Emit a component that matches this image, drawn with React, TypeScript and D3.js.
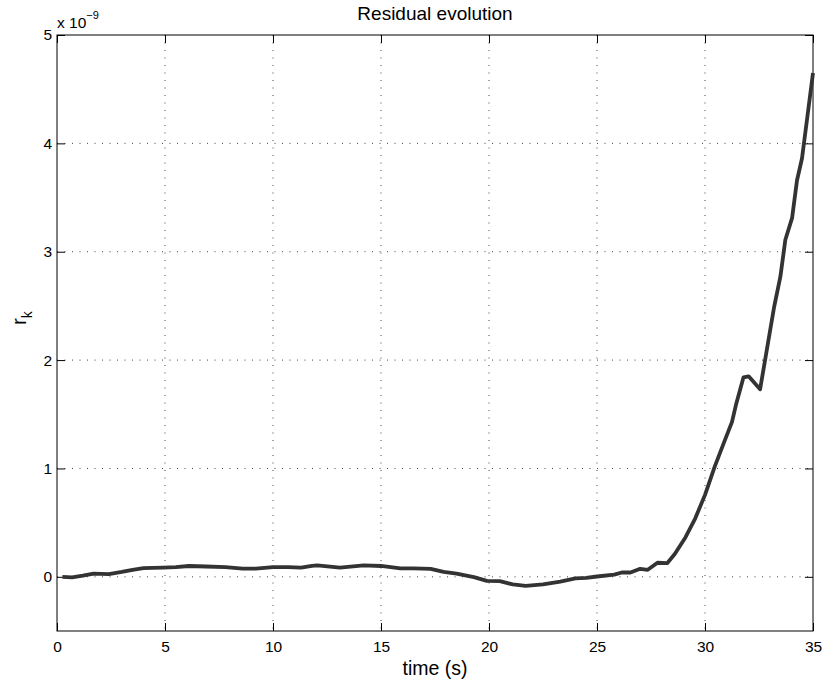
import React, { useEffect, useRef } from 'react'
import * as d3 from 'd3'

// time (s) and residual r_k (units of 1e-9)
const times = [
  0.25, 0.7, 1.2, 1.7, 2.4, 3.0, 3.5, 4.0, 4.9, 5.5, 6.1, 6.9, 7.8, 8.6, 9.2, 10.0,
  10.7, 11.3, 11.8, 12.05, 13.1, 14.2, 15.0, 15.9, 16.5, 17.3, 17.9, 18.5, 19.3, 19.9,
  20.5, 21.1, 21.7, 22.5, 23.3, 24.0, 24.5, 25.0, 25.8, 26.15, 26.55, 27.0, 27.35, 27.8,
  28.25, 28.6, 29.1, 29.55, 30.0, 30.45, 30.85, 31.25, 31.45, 31.78, 32.02, 32.55, 33.2,
  33.49, 33.72, 34.03, 34.26, 34.49, 35.0,
]
const residuals = [
  0, -0.005, 0.01, 0.03, 0.025, 0.045, 0.065, 0.08, 0.085, 0.09, 0.1, 0.095, 0.09, 0.075, 0.075, 0.09,
  0.09, 0.085, 0.1, 0.105, 0.085, 0.105, 0.1, 0.077, 0.078, 0.074, 0.046, 0.03, -0.003, -0.037,
  -0.04, -0.07, -0.083, -0.07, -0.045, -0.015, -0.01, 0.003, 0.02, 0.04, 0.04, 0.074, 0.065, 0.13,
  0.126, 0.21, 0.366, 0.54, 0.756, 1.017, 1.224, 1.43, 1.6, 1.84, 1.85, 1.73, 2.49,
  2.77, 3.11, 3.31, 3.66, 3.86, 4.65,
]
const xTicks = [0, 5, 10, 15, 20, 25, 30, 35]
const yTicks = [0, 1, 2, 3, 4, 5]

const W = 824
const H = 681
const FONT = '"Liberation Sans", Arial, Helvetica, sans-serif'

const App = () => {
  const ref = useRef<SVGSVGElement>(null)

  useEffect(() => {
    const svg = d3.select(ref.current)
    svg.selectAll('*').remove()

    const left = 57, right = 813, top = 35, bottom = 631
    const x = d3.scaleLinear().domain([0, 35]).range([left, right])
    const y = d3.scaleLinear().domain([-0.5, 5]).range([bottom, top])

    // dotted grid
    const grid = svg.append('g').attr('stroke', '#444').attr('stroke-width', 1).attr('stroke-dasharray', '1,6.5')
    grid.selectAll('line.v').data(xTicks.slice(1, -1)).join('line')
      .attr('x1', d => x(d)).attr('x2', d => x(d)).attr('y1', top).attr('y2', bottom)
    grid.selectAll('line.h').data(yTicks.slice(0, -1)).join('line')
      .attr('class', 'h')
      .attr('x1', left).attr('x2', right).attr('y1', d => y(d)).attr('y2', d => y(d))

    // axes, ticks inward
    const styleAxis = (g: any) => {
      g.attr('font-size', null).attr('font-family', null)
      g.select('.domain').remove()
      g.selectAll('line').attr('stroke', '#000')
      g.selectAll('text').attr('font-family', FONT).attr('font-size', 15.5).attr('fill', '#000')
    }
    svg.append('g').attr('transform', `translate(0,${bottom})`)
      .call(d3.axisBottom(x).tickValues(xTicks).tickSize(-8).tickPadding(10).tickFormat(d3.format('d')))
      .call(styleAxis)
    svg.append('g').attr('transform', `translate(0,${top})`)
      .call(d3.axisTop(x).tickValues(xTicks).tickSize(-8).tickFormat(() => ''))
      .call(styleAxis)
    svg.append('g').attr('transform', `translate(${left},0)`)
      .call(d3.axisLeft(y).tickValues(yTicks).tickSize(-8).tickPadding(5).tickFormat(d3.format('d')))
      .call(styleAxis)
    svg.append('g').attr('transform', `translate(${right},0)`)
      .call(d3.axisRight(y).tickValues(yTicks).tickSize(-8).tickFormat(() => ''))
      .call(styleAxis)

    // frame
    svg.append('rect').attr('x', left).attr('y', top).attr('width', right - left).attr('height', bottom - top)
      .attr('fill', 'none').attr('stroke', '#000').attr('stroke-width', 1)

    // residual curve
    const pts = times.map((t, i) => [t, residuals[i]] as [number, number])
    svg.append('path').datum(pts)
      .attr('d', d3.line<[number, number]>().x(d => x(d[0])).y(d => y(d[1])))
      .attr('fill', 'none').attr('stroke', '#333').attr('stroke-width', 3.8)
      .attr('stroke-linejoin', 'round')

    // texts
    svg.append('text').attr('x', (left + right) / 2).attr('y', 20).attr('text-anchor', 'middle')
      .attr('font-family', FONT).attr('font-size', 19).text('Residual evolution')
    svg.append('text').attr('x', (left + right) / 2).attr('y', 675).attr('text-anchor', 'middle')
      .attr('font-family', FONT).attr('font-size', 19.5).text('time (s)')

    const yl = svg.append('text').attr('transform', 'translate(26,318) rotate(-90)')
      .attr('text-anchor', 'middle').attr('font-family', FONT).attr('font-size', 19.5)
    yl.append('tspan').text('r')
    yl.append('tspan').attr('font-size', 14).attr('dy', 6).text('k')

    const ex = svg.append('text').attr('x', 57).attr('y', 28).attr('font-family', FONT).attr('font-size', 15.5)
    ex.append('tspan').text('x 10')
    ex.append('tspan').attr('font-size', 11).attr('dy', -9).text('\u22129')
  }, [])

  return (
    <svg ref={ref} width={W} height={H}
      style={{ position: 'absolute', left: 0, top: 0, background: '#fff' }} />
  )
}

export default App
